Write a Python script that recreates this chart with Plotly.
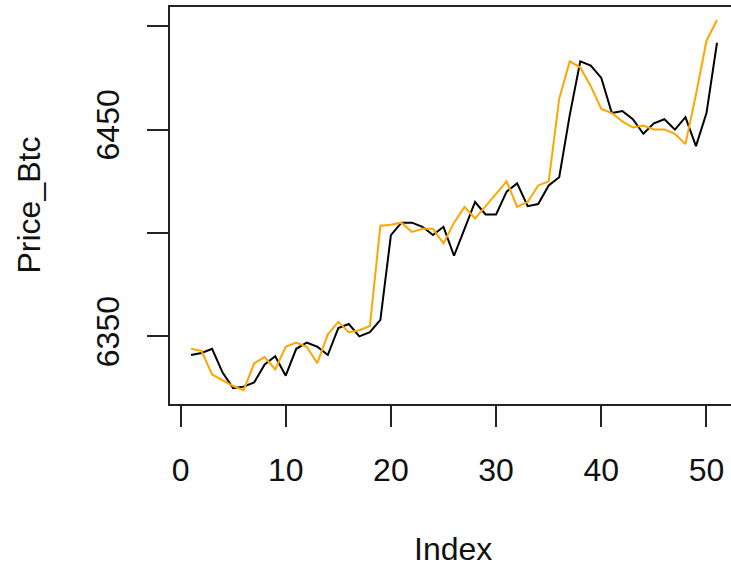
import plotly.graph_objects as go

index = list(range(1, 52))
price_btc = [6341, 6342, 6344, 6332.5, 6325, 6325.7, 6327.7, 6336.4, 6340.4, 6331,
             6344, 6347, 6345, 6341, 6354, 6356, 6350, 6352, 6358, 6399,
             6405, 6405, 6403, 6399, 6403, 6389, 6402, 6415, 6409, 6409,
             6420, 6424, 6413, 6414, 6423, 6427, 6457, 6483, 6481, 6475,
             6458, 6459, 6455, 6448, 6453, 6455, 6450, 6456, 6442, 6458, 6492]
predicted = [6344, 6343, 6331.6, 6329, 6326, 6324, 6337, 6340, 6334, 6345,
             6347, 6345, 6337, 6351, 6357, 6352, 6353, 6355, 6403.5, 6404,
             6405, 6400.5, 6402, 6402, 6395, 6405, 6412.6, 6407, 6413, 6419,
             6425, 6412.6, 6415, 6423, 6425, 6465, 6483, 6480, 6471, 6460,
             6458, 6454, 6451, 6452, 6450, 6450, 6448, 6443, 6467, 6493, 6503]

x_ticks = [0, 10, 20, 30, 40, 50]
y_ticks = [6350, 6400, 6450, 6500]
y_ticktext = ["6350", "", "6450", ""]

fig = go.Figure()
fig.add_trace(go.Scatter(x=index, y=price_btc, mode="lines",
                         line=dict(color="black", width=2), showlegend=False))
fig.add_trace(go.Scatter(x=index, y=predicted, mode="lines",
                         line=dict(color="#FFA500", width=2), showlegend=False))

font = dict(family="Liberation Sans, Arial, sans-serif", size=32, color="#111111")

fig.update_layout(
    width=731, height=567,
    margin=dict(l=170, r=0, t=7, b=163, pad=0),
    paper_bgcolor="white", plot_bgcolor="white",
    font=font,
    xaxis=dict(
        range=[-1, 52.33], tickvals=x_ticks, ticks="outside", ticklen=21,
        tickwidth=1.5, tickcolor="#222", showline=True, linecolor="#222",
        linewidth=1.5, mirror=True, showgrid=False, zeroline=False,
        ticklabelstandoff=16,
    ),
    yaxis=dict(
        range=[6317.3, 6509.3], tickvals=y_ticks, ticktext=y_ticktext,
        tickangle=-90, ticks="outside", ticklen=21, tickwidth=1.5,
        tickcolor="#222", showline=True, linecolor="#222", linewidth=1.5,
        mirror=False, showgrid=False, zeroline=False,
        ticklabelstandoff=15,
    ),
    annotations=[
        dict(text="Index", xref="paper", yref="paper", x=0.504, y=0,
             xanchor="center", yanchor="middle", yshift=-145,
             showarrow=False, font=font),
        dict(text="Price_Btc", xref="paper", yref="paper", x=0, y=0.5,
             xanchor="center", yanchor="middle", xshift=-142, textangle=-90,
             showarrow=False, font=font),
    ],
)

fig.write_html("out.html")
